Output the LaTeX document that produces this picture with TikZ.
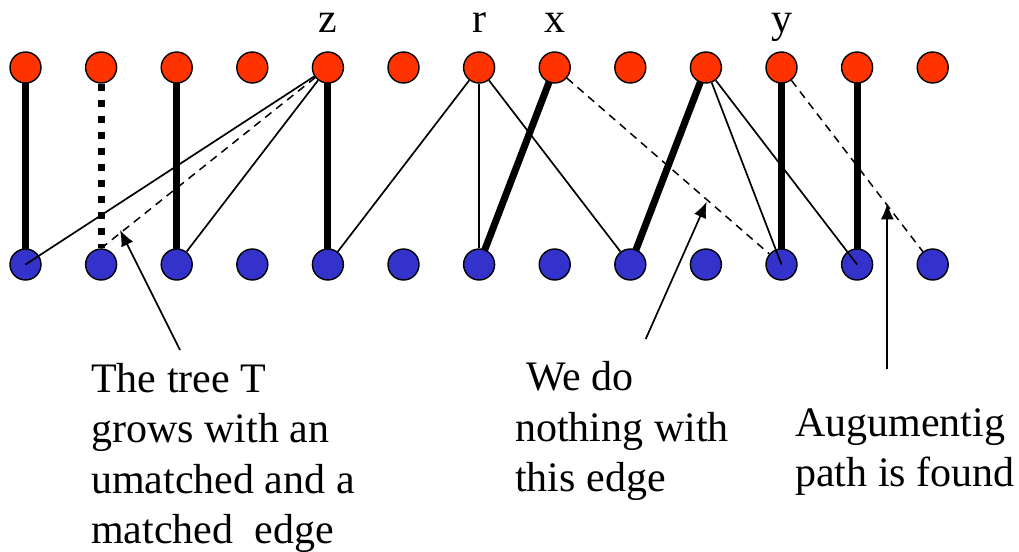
\documentclass[tikz,border=0pt]{standalone}
\usepackage{fontspec}
\setmainfont{Liberation Serif}
\newfontfamily\timesf{Liberation Serif}
\usetikzlibrary{arrows.meta,backgrounds}
\definecolor{topred}{HTML}{FF3300}
\definecolor{botblue}{HTML}{3333CC}
\begin{document}
\begin{tikzpicture}[x=1pt,y=-1pt,
  topv/.style={circle,draw=black,line width=1.4pt,fill=topred,minimum size=31pt,inner sep=0pt},
  botv/.style={circle,draw=black,line width=1.4pt,fill=botblue,minimum size=31pt,inner sep=0pt},
  matched/.style={line width=7pt},
  thinedge/.style={line width=1.7pt},
  dashedge/.style={line width=1.5pt,dash pattern=on 8pt off 6pt},
  dottedge/.style={line width=7pt,dash pattern=on 7pt off 9pt},
  lbl/.style={font=\timesf\fontsize{42}{50.5}\selectfont,inner sep=0pt},
  pointer/.style={line width=1.7pt,-{Latex[length=16pt,width=13pt]}}
]
\useasboundingbox (0,0) rectangle (1019,551);
\foreach \i in {0,...,12} {
  \node[topv] (t\i) at ({25.5+75.6*\i},67.5) {};
  \node[botv] (b\i) at ({25.5+75.6*\i},264.5) {};
}
% vertex labels
\node[lbl,anchor=base] (lz) at ([yshift=34.5pt]t4.center) {z};
\node[lbl,anchor=base] (lr) at ([yshift=34.5pt]t6.center) {r};
\node[lbl,anchor=base] (lx) at ([yshift=34.5pt]t7.center) {x};
\node[lbl,anchor=base] (ly) at ([yshift=34.5pt]t10.center) {y};
% matched edges
\begin{scope}[on background layer]
\draw[matched] (t0.center) -- (b0.center);
\draw[matched] (t2.center) -- (b2.center);
\draw[matched] (t4.center) -- (b4.center);
\draw[matched] (t7.center) -- (b6.center);
\draw[matched] (t9.center) -- (b8.center);
\draw[matched] (t10.center) -- (b10.center);
\draw[matched] (t11.center) -- (b11.center);
\end{scope}
\draw[dottedge] (t1) -- (b1);
% other edges
\draw[thinedge] (t4) -- (b0.center);
\draw[dashedge] (t4) -- (b1.north);
\draw[thinedge] (t4) -- (b2);
\draw[thinedge] (t6) -- (b4);
\draw[thinedge] (t6) -- (b6);
\draw[thinedge] (t6) -- (b8);
\draw[dashedge] (t7) -- (b10);
\draw[thinedge] (t9) -- (b10.center);
\draw[thinedge] (t9) -- (b11.center);
\draw[dashedge] (t10) -- (b12);
% pointers
\coordinate (p1s) at (180,350);
\coordinate (p1e) at (120,230);
\coordinate (p2s) at (645.7,339);
\coordinate (p2e) at (706.7,201.7);
\coordinate (p3s) at (887.3,369.3);
\coordinate (p3e) at (887.3,203.3);
\draw[pointer] (p1s) -- (p1e);
\draw[pointer] (p2s) -- (p2e);
\draw[pointer] (p3s) -- (p3e);
% texts
\node[lbl,align=left,anchor=north west] (txt1) at (91,363) {The tree T\\grows with an\\umatched and a\\matched\ \ edge};
\node[lbl,align=left,anchor=north west] (txt2) at (515,361.5) {\hspace*{11pt}We do\\nothing with\\this edge};
\node[lbl,align=left,anchor=north west] (txt3) at (795,408.4) {Augumentig\\path is found};
\end{tikzpicture}
\end{document}
